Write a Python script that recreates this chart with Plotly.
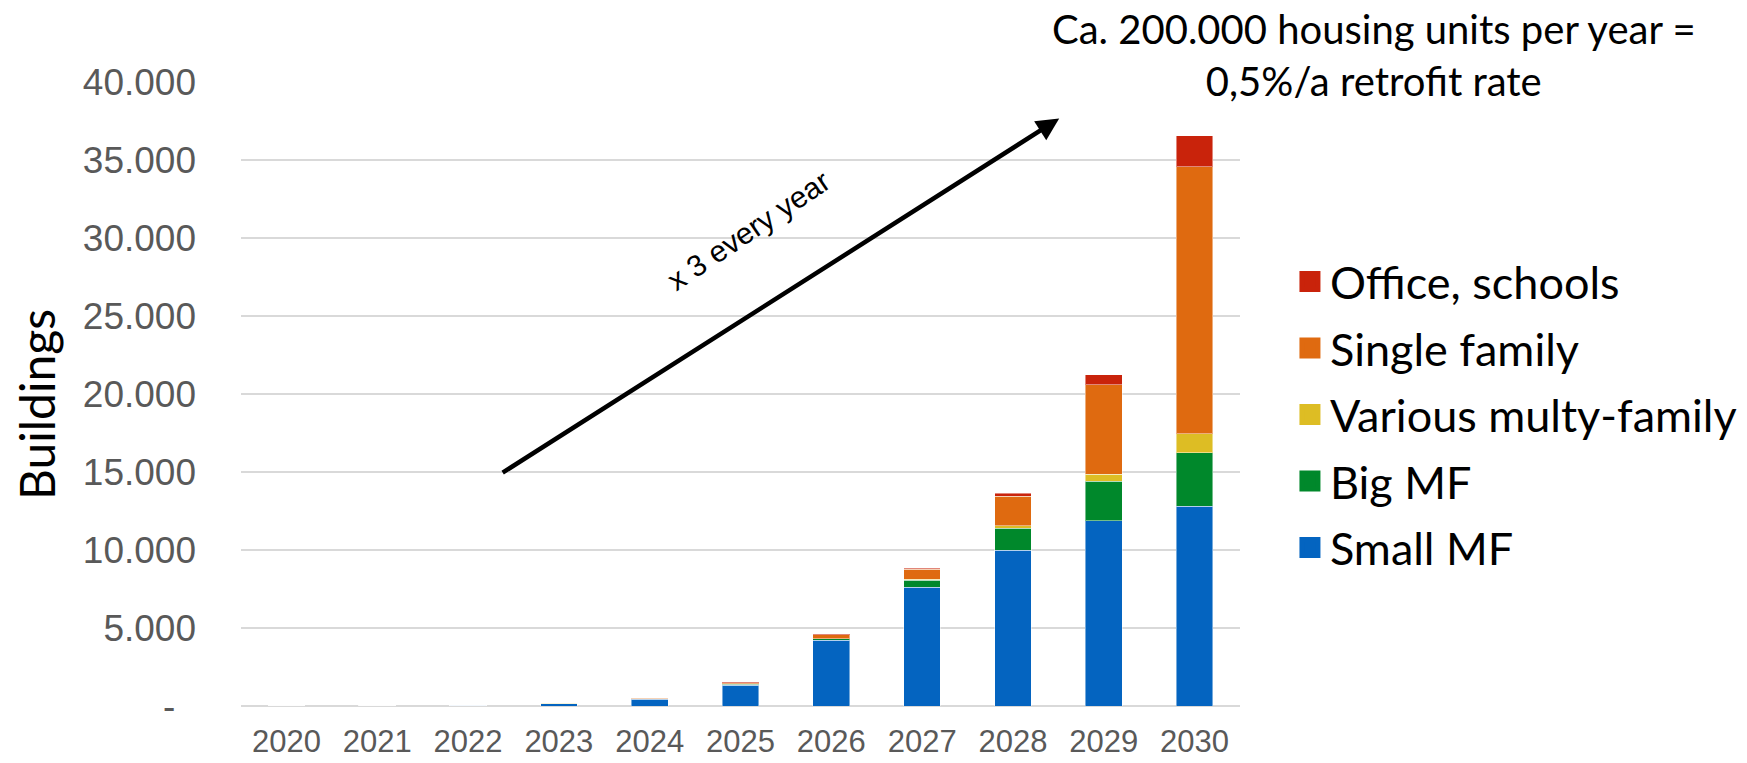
import plotly.graph_objects as go

# ---- data ----
years = ["2020", "2021", "2022", "2023", "2024", "2025", "2026", "2027", "2028", "2029", "2030"]
small_mf = [5, 15, 45, 150, 440, 1340, 4200, 7600, 10000, 11880, 12820]
big_mf = [0.5, 1, 4, 10, 15, 60, 100, 460, 1410, 2540, 3400]
various_mf = [0, 0, 1, 2, 3, 15, 20, 60, 150, 430, 1230]
single_family = [0.5, 1, 4, 10, 30, 90, 260, 660, 1880, 5740, 17130]
office_schools = [0, 0, 0, 1, 2, 5, 15, 50, 210, 640, 1960]

series_names = ["Small MF", "Big MF", "Various multy-family", "Single family", "Office, schools"]
series_values = [small_mf, big_mf, various_mf, single_family, office_schools]
series_colors = ["#0464C0", "#00882B", "#DDBD24", "#DF6A10", "#C9230B"]

y_tickvals = [0, 5000, 10000, 15000, 20000, 25000, 30000, 35000, 40000]
y_ticktext = ["-\u00a0\u00a0", "5.000", "10.000", "15.000", "20.000", "25.000", "30.000", "35.000", "40.000"]

fig = go.Figure()

# stacked bars
for name, vals, col in zip(series_names, series_values, series_colors):
    fig.add_trace(go.Bar(
        x=years, y=vals, name=name, showlegend=False,
        marker=dict(color=col, line=dict(color="rgba(255,255,255,0.45)", width=1)),
    ))

# legend entries (larger square swatches), listed top to bottom
for name, col in reversed(list(zip(series_names, series_colors))):
    fig.add_trace(go.Scatter(
        x=[None], y=[None], mode="markers", name=name, legendgroup="lg_" + name,
        marker=dict(symbol="square", size=16, color=col, line=dict(color=col, width=5)),
    ))

text_font = "Lato, 'Open Sans', sans-serif"
tick_font = "'Liberation Sans', Arial, sans-serif"

fig.update_layout(
    width=1747, height=763,
    margin=dict(l=241, r=507, t=82, b=57, autoexpand=False),
    paper_bgcolor="white", plot_bgcolor="white",
    barmode="stack", bargap=0.596,
    showlegend=True,
    legend=dict(
        x=1.05, xanchor="left", y=0.4666, yanchor="middle",
        traceorder="grouped", tracegroupgap=5,
        font=dict(family=text_font, size=45, color="black"),
        bgcolor="rgba(0,0,0,0)",
    ),
    xaxis=dict(
        type="category", showgrid=False, showline=False, zeroline=False,
        ticks="", ticklabelstandoff=14, automargin=False,
        tickfont=dict(family=tick_font, size=31, color="#595959"),
    ),
    yaxis=dict(
        range=[0, 40000], tickvals=y_tickvals, ticktext=y_ticktext,
        showgrid=True, gridcolor="#D9D9D9", gridwidth=2,
        zeroline=True, zerolinecolor="#D9D9D9", zerolinewidth=2,
        showline=False, ticks="", ticklabelstandoff=44, automargin=False,
        tickfont=dict(family=tick_font, size=37, color="#595959"),
    ),
    annotations=[
        dict(
            xref="paper", yref="paper", x=-0.2045, y=0.4834,
            text="Buildings", showarrow=False, textangle=-90,
            xanchor="center", yanchor="middle",
            font=dict(family=text_font, size=48, color="black"),
        ),
        dict(
            xref="paper", yref="paper", x=0.819, y=0.9414,
            ax=-558, ay=355, axref="pixel", ayref="pixel",
            text="", showarrow=True, arrowhead=2, arrowsize=1, arrowwidth=4.5,
            arrowcolor="black",
        ),
        dict(
            xref="paper", yref="paper", x=0.5078, y=0.7627,
            text="x 3 every year", showarrow=False, textangle=-34,
            font=dict(family=tick_font, size=30, color="black"),
            xanchor="center", yanchor="middle",
        ),
        dict(
            xref="paper", yref="paper", x=1.1346, y=1.0427,
            text="Ca. 200.000 housing units per year =<br>0,5%/a retrofit rate",
            showarrow=False, align="center", xanchor="center", yanchor="middle",
            font=dict(family=text_font, size=40, color="black"),
        ),
    ],
)

fig.write_html("out.html", config={"displayModeBar": False},
               post_script="document.body.style.margin='0';")
